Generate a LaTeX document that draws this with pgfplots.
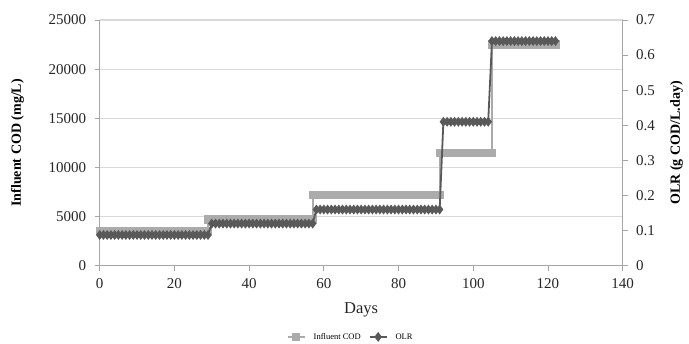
\documentclass[border=0pt]{standalone}
\usepackage{pgfplots}
\pgfplotsset{compat=1.18}
\usepackage{fontspec}
\setmainfont{Liberation Serif}
\definecolor{codgray}{HTML}{ABABAB}
\definecolor{olrgray}{HTML}{595959}
\definecolor{gridgray}{HTML}{D9D9D9}
\definecolor{axisgray}{HTML}{A6A6A6}
\begin{document}
\begin{tikzpicture}
\useasboundingbox (-99.7pt,-78.3pt) rectangle (589.3pt,265.7pt);
\pgfplotsset{
  common/.style={
    scale only axis, width=523pt, height=245.7pt,
    xmin=0, xmax=140,
    axis line style={-, axisgray, line width=0.9pt},
    tick style={axisgray, line width=0.9pt},
    major tick length=5pt,
    tick align=outside,
    scaled y ticks=false, scaled x ticks=false,
    /pgf/number format/assume math mode=true,
    ticklabel style={font=\fontsize{15}{18}\selectfont, text=black!85},
  }
}
\begin{axis}[common,
  at={(0pt,0pt)}, anchor=south west,
  axis x line*=bottom, axis y line*=left,
  ymin=0, ymax=25000,
  xtick={0,20,...,140},
  ytick={0,5000,...,25000},
  ymajorgrids, grid style={gridgray, line width=1.1pt},
  /pgf/number format/fixed, /pgf/number format/1000 sep={},
  yticklabel style={xshift=-5pt},
  xticklabel style={yshift=-4pt},
  xlabel={Days},
  every axis x label/.style={at={(axis description cs:0.5,-0.18)}, anchor=center, font=\fontsize{16.5}{19}\selectfont, text=black!85},
  ylabel={\textbf{Influent COD (mg/L)}},
  every axis y label/.style={at={(axis description cs:-0.157,0.5)}, rotate=90, anchor=center, font=\fontsize{14}{17}\selectfont},
]
\addplot[codgray, line width=1.8pt, mark=square*, mark size=3.2pt, mark options={codgray}] coordinates {
(0,3500)(1,3500)(2,3500)(3,3500)(4,3500)(5,3500)(6,3500)(7,3500)(8,3500)(9,3500)
(10,3500)(11,3500)(12,3500)(13,3500)(14,3500)(15,3500)(16,3500)(17,3500)(18,3500)(19,3500)
(20,3500)(21,3500)(22,3500)(23,3500)(24,3500)(25,3500)(26,3500)(27,3500)(28,3500)(29,3500)
(29,4700)(30,4700)(31,4700)(32,4700)(33,4700)(34,4700)(35,4700)(36,4700)(37,4700)(38,4700)
(39,4700)(40,4700)(41,4700)(42,4700)(43,4700)(44,4700)(45,4700)(46,4700)(47,4700)(48,4700)
(49,4700)(50,4700)(51,4700)(52,4700)(53,4700)(54,4700)(55,4700)(56,4700)(57,4700)
(57,7200)(58,7200)(59,7200)(60,7200)(61,7200)(62,7200)(63,7200)(64,7200)(65,7200)(66,7200)
(67,7200)(68,7200)(69,7200)(70,7200)(71,7200)(72,7200)(73,7200)(74,7200)(75,7200)(76,7200)
(77,7200)(78,7200)(79,7200)(80,7200)(81,7200)(82,7200)(83,7200)(84,7200)(85,7200)(86,7200)
(87,7200)(88,7200)(89,7200)(90,7200)(91,7200)
(91,11500)(92,11500)(93,11500)(94,11500)(95,11500)(96,11500)(97,11500)(98,11500)(99,11500)(100,11500)
(101,11500)(102,11500)(103,11500)(104,11500)(105,11500)
(105,22500)(106,22500)(107,22500)(108,22500)(109,22500)(110,22500)(111,22500)(112,22500)(113,22500)(114,22500)
(115,22500)(116,22500)(117,22500)(118,22500)(119,22500)(120,22500)(121,22500)(122,22500)
};
\end{axis}
\begin{axis}[common,
  at={(0pt,0pt)}, anchor=south west,
  axis y line*=right, axis x line=none,
  ymin=0, ymax=0.7,
  ytick={0,0.1,...,0.7},
  /pgf/number format/fixed, /pgf/number format/precision=1,
  yticklabel style={xshift=5pt},
  ylabel={\textbf{OLR (g COD/L.day)}},
  every axis y label/.style={at={(axis description cs:1.103,0.5)}, rotate=90, anchor=center, font=\fontsize{14}{17}\selectfont},
  legend columns=2,
  legend style={at={(axis description cs:0.48,-0.29)}, anchor=center, draw=none, fill=none,
    font=\fontsize{8.5}{10}\selectfont, column sep=6pt, inner sep=0pt},
  legend cell align=left,
]
\addlegendimage{codgray, line width=1.8pt, mark=square*, mark size=3.2pt, mark options={codgray}}
\addlegendentry{Influent COD}
\addplot[olrgray, line width=1.8pt, mark=diamond*, mark size=3.5pt, mark options={olrgray}] coordinates {
(0,0.0875)(1,0.0875)(2,0.0875)(3,0.0875)(4,0.0875)(5,0.0875)(6,0.0875)(7,0.0875)(8,0.0875)(9,0.0875)
(10,0.0875)(11,0.0875)(12,0.0875)(13,0.0875)(14,0.0875)(15,0.0875)(16,0.0875)(17,0.0875)(18,0.0875)(19,0.0875)
(20,0.0875)(21,0.0875)(22,0.0875)(23,0.0875)(24,0.0875)(25,0.0875)(26,0.0875)(27,0.0875)(28,0.0875)(29,0.0875)
(30,0.12)(31,0.12)(32,0.12)(33,0.12)(34,0.12)(35,0.12)(36,0.12)(37,0.12)(38,0.12)(39,0.12)
(40,0.12)(41,0.12)(42,0.12)(43,0.12)(44,0.12)(45,0.12)(46,0.12)(47,0.12)(48,0.12)(49,0.12)
(50,0.12)(51,0.12)(52,0.12)(53,0.12)(54,0.12)(55,0.12)(56,0.12)(57,0.12)
(58,0.16)(59,0.16)(60,0.16)(61,0.16)(62,0.16)(63,0.16)(64,0.16)(65,0.16)(66,0.16)(67,0.16)
(68,0.16)(69,0.16)(70,0.16)(71,0.16)(72,0.16)(73,0.16)(74,0.16)(75,0.16)(76,0.16)(77,0.16)
(78,0.16)(79,0.16)(80,0.16)(81,0.16)(82,0.16)(83,0.16)(84,0.16)(85,0.16)(86,0.16)(87,0.16)
(88,0.16)(89,0.16)(90,0.16)(91,0.16)
(92,0.41)(93,0.41)(94,0.41)(95,0.41)(96,0.41)(97,0.41)(98,0.41)(99,0.41)(100,0.41)(101,0.41)
(102,0.41)(103,0.41)(104,0.41)
(105,0.64)(106,0.64)(107,0.64)(108,0.64)(109,0.64)(110,0.64)(111,0.64)(112,0.64)(113,0.64)(114,0.64)
(115,0.64)(116,0.64)(117,0.64)(118,0.64)(119,0.64)(120,0.64)(121,0.64)(122,0.64)
};
\addlegendentry{OLR}
\end{axis}
\end{tikzpicture}
\end{document}
